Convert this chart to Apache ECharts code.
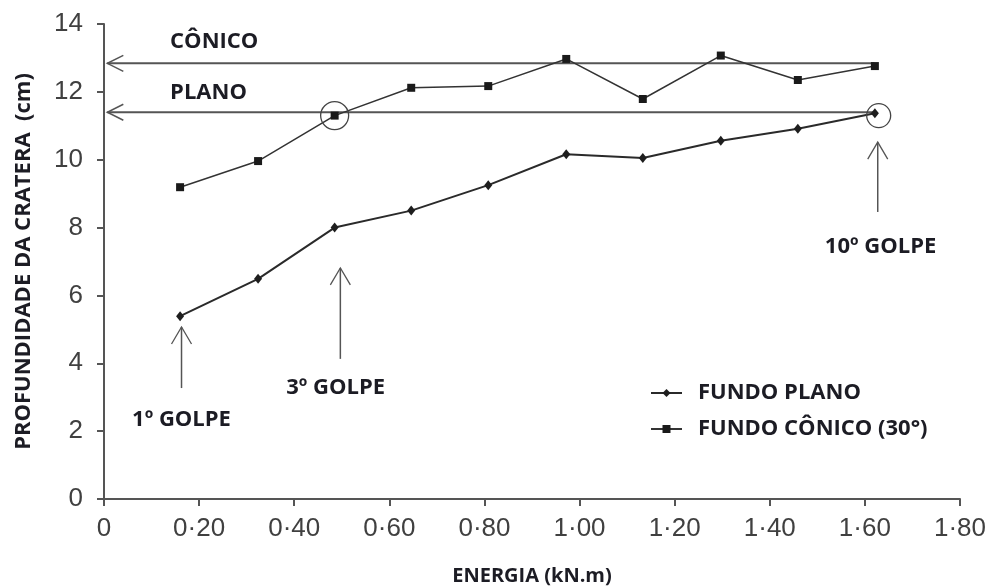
<!DOCTYPE html>
<html>
<head>
<meta charset="utf-8">
<script src="https://cdn.jsdelivr.net/npm/echarts@6/dist/echarts.min.js"></script>
<style>html,body{margin:0;padding:0;background:#fff}#c{width:992px;height:588px}</style>
</head>
<body>
<div id="c"></div>
<script>
// ---- data ----
const energia = [0.160, 0.324, 0.485, 0.646, 0.808, 0.972, 1.133, 1.297, 1.459, 1.621];
const fundoPlano = [5.39, 6.49, 8.00, 8.50, 9.25, 10.16, 10.05, 10.56, 10.91, 11.37];
const fundoConico = [9.19, 9.96, 11.30, 12.12, 12.17, 12.97, 11.79, 13.07, 12.35, 12.76];
const seriesNames = ['FUNDO PLANO', 'FUNDO CÔNICO (30°)'];
// horizontal reference lines: [xStart, xEnd, y]
const refLines = [[0.007, 1.62, 12.84], [0.007, 1.62, 11.40]];
const refLabels = ['CÔNICO', 'PLANO'];
const refLabelPos = [[0.139, 13.48], [0.139, 11.96]];
// vertical arrows: [x, yFrom, yTo]
const golpeArrows = [[0.163, 3.27, 5.07], [0.497, 4.13, 6.81], [1.627, 8.46, 10.52]];
const golpeLabels = ['1º GOLPE', '3º GOLPE', '10º GOLPE'];
const golpeLabelPos = [[0.163, 2.33], [0.487, 3.27], [1.633, 7.44]];
// highlight circles: [x, y]
const circles = [[0.485, 11.30], [1.629, 11.30]];
const circleR = [14, 12];

const TEXT_FONT = 'bold 22px "Open Sans"';
const TEXT_COLOR = '#1c1c24';
const ANN_COLOR = '#555';

const chart = echarts.init(document.getElementById('c'));
chart.setOption({
  backgroundColor: '#fff',
  animation: false,
  grid: { left: 104, top: 24, right: 32, bottom: 89, containLabel: false, outerBoundsMode: 'none' },
  xAxis: {
    type: 'value', min: 0, max: 1.8, interval: 0.2,
    name: 'ENERGIA (kN.m)', nameLocation: 'middle', nameGap: 67,
    nameTextStyle: { fontFamily: 'Open Sans', fontWeight: 'bold', fontSize: 20, color: TEXT_COLOR },
    axisLine: { lineStyle: { color: '#555', width: 2 } },
    axisTick: { show: true, length: 7, lineStyle: { color: '#555', width: 2 } },
    axisLabel: {
      margin: 17, fontFamily: 'Liberation Sans', fontSize: 26, color: '#404040',
      formatter: v => v === 0 ? '0' : v.toFixed(2).replace('.', '·')
    },
    splitLine: { show: false }
  },
  yAxis: {
    type: 'value', min: 0, max: 14, interval: 2,
    name: 'PROFUNDIDADE DA CRATERA  (cm)', nameLocation: 'middle', nameGap: 69,
    nameTextStyle: { fontFamily: 'Open Sans', fontWeight: 'bold', fontSize: 22, color: TEXT_COLOR },
    axisLine: { show: true, lineStyle: { color: '#555', width: 2 } },
    axisTick: { show: true, length: 7, lineStyle: { color: '#555', width: 2 } },
    axisLabel: { margin: 21, fontFamily: 'Liberation Sans', fontSize: 26, color: '#404040' },
    splitLine: { show: false }
  },
  legend: {
    orient: 'vertical', left: 645, top: 377, itemGap: 14,
    itemWidth: 31, itemHeight: 10,
    textStyle: { fontFamily: 'Open Sans', fontWeight: 'bold', fontSize: 22, lineHeight: 21, color: TEXT_COLOR, padding: [0, 0, 0, 11] },
    data: seriesNames
  },
  series: [
    {
      name: seriesNames[0], type: 'line', symbol: 'diamond', symbolSize: [8, 10],
      data: energia.map((x, i) => [x, fundoPlano[i]]),
      lineStyle: { color: '#2a2a2a', width: 2 }, itemStyle: { color: '#1e1e1e' }, z: 3
    },
    {
      name: seriesNames[1], type: 'line', symbol: 'rect', symbolSize: 8,
      data: energia.map((x, i) => [x, fundoConico[i]]),
      lineStyle: { color: '#333', width: 1.5 }, itemStyle: { color: '#1a1a1a' }, z: 3
    },
    {
      type: 'custom', silent: true, clip: false, z: 2,
      data: refLines,
      renderItem: (params, api) => {
        const i = params.dataIndex;
        const p0 = api.coord([api.value(0), api.value(2)]);
        const p1 = api.coord([api.value(1), api.value(2)]);
        const lp = api.coord(refLabelPos[i]);
        return { type: 'group', children: [
          { type: 'line', shape: { x1: p0[0], y1: p0[1], x2: p1[0], y2: p1[1] }, style: { stroke: ANN_COLOR, lineWidth: 2 } },
          { type: 'polyline', shape: { points: [[p0[0] + 16, p0[1] - 8], [p0[0], p0[1]], [p0[0] + 16, p0[1] + 8]] }, style: { stroke: ANN_COLOR, lineWidth: 1.5, fill: null } },
          { type: 'text', style: { text: refLabels[i], x: lp[0], y: lp[1], font: TEXT_FONT, fill: TEXT_COLOR, align: 'left', verticalAlign: 'middle', textAlign: 'left', textVerticalAlign: 'middle' } }
        ]};
      }
    },
    {
      type: 'custom', silent: true, clip: false, z: 2,
      data: golpeArrows,
      renderItem: (params, api) => {
        const i = params.dataIndex;
        const p0 = api.coord([api.value(0), api.value(1)]);
        const p1 = api.coord([api.value(0), api.value(2)]);
        const lp = api.coord(golpeLabelPos[i]);
        return { type: 'group', children: [
          { type: 'line', shape: { x1: p0[0], y1: p0[1], x2: p1[0], y2: p1[1] }, style: { stroke: ANN_COLOR, lineWidth: 1.5 } },
          { type: 'polyline', shape: { points: [[p1[0] - 10, p1[1] + 17], [p1[0], p1[1]], [p1[0] + 10, p1[1] + 17]] }, style: { stroke: ANN_COLOR, lineWidth: 1.3, fill: null } },
          { type: 'text', style: { text: golpeLabels[i], x: lp[0], y: lp[1], font: TEXT_FONT, fill: TEXT_COLOR, align: 'center', verticalAlign: 'middle', textAlign: 'center', textVerticalAlign: 'middle' } }
        ]};
      }
    },
    {
      type: 'custom', silent: true, clip: false, z: 4,
      data: circles,
      renderItem: (params, api) => {
        const c = api.coord([api.value(0), api.value(1)]);
        return { type: 'circle', shape: { cx: c[0], cy: c[1], r: circleR[params.dataIndex] }, style: { stroke: '#444', lineWidth: 1.3, fill: null } };
      }
    }
  ]
});
</script>
</body>
</html>
